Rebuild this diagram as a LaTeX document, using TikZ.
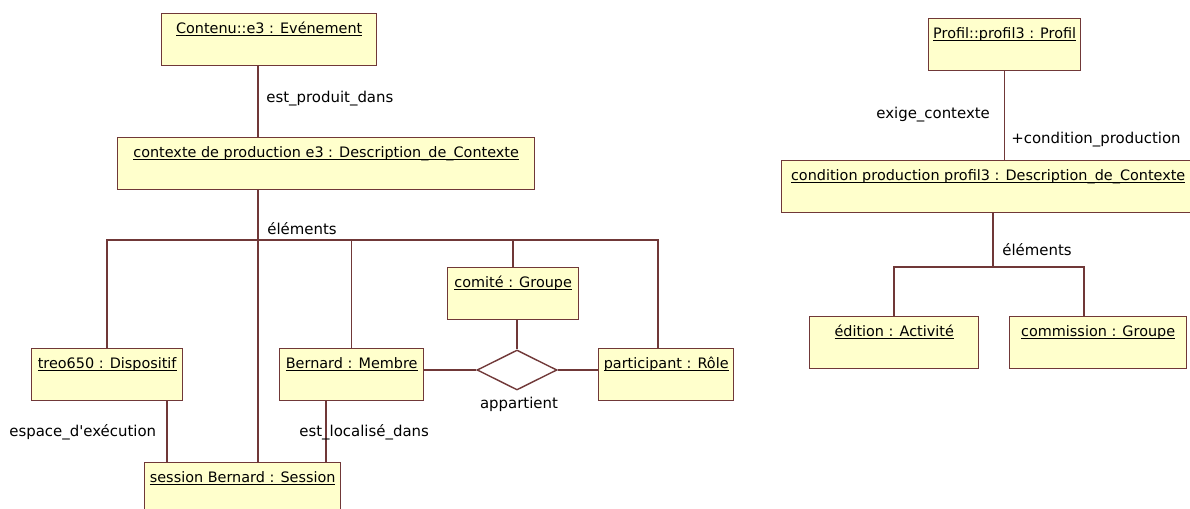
\documentclass[tikz,border=0pt]{standalone}
\usepackage{fontspec}
\newfontfamily\umlfont{DejaVu Sans}
\usetikzlibrary{shapes.geometric, positioning}
\usepackage{xcolor}
\definecolor{objFill}{RGB}{255,255,204}
\definecolor{objLine}{RGB}{112,56,56}
\newcommand{\objname}[1]{\underline{\smash{#1}}}

\begin{document}
\begin{tikzpicture}[
    x=0.02cm, y=-0.02cm,
    objbox/.style={rectangle, draw=objLine, line width=0.8pt, fill=objFill, anchor=north west, inner xsep=2.5pt, inner ysep=4pt, text height=7pt, text depth=14.6pt, font=\umlfont\fontsize{8.2}{10}\selectfont},
    assoc/.style={font=\umlfont\fontsize{8.5}{10}\selectfont, inner sep=0pt, anchor=west},
    link/.style={draw=objLine, line width=0.8pt}
]
\useasboundingbox (0,0) rectangle (1190,509);

% left diagram
\node[objbox, minimum width=4.30cm] (evt) at (161,13) {\objname{Contenu::e3 : Evénement}};
\node[objbox, minimum width=8.34cm] (ctx) at (117,137) {\objname{contexte de production e3 : Description\_de\_Contexte}};
\node[objbox, minimum width=3.02cm] (treo) at (31,348) {\objname{treo650 : Dispositif}};
\node[objbox, minimum width=2.88cm] (memb) at (279,348) {\objname{Bernard : Membre}};
\node[objbox, minimum width=2.62cm] (comite) at (447,267) {\objname{comité : Groupe}};
\node[objbox, minimum width=2.70cm] (part) at (598,348) {\objname{participant : Rôle}};
\node[objbox, minimum width=3.92cm] (sess) at (144,462) {\objname{session Bernard : Session}};
\node[diamond, draw=objLine, line width=0.8pt, fill=white, aspect=2, minimum width=1.6cm, minimum height=0.8cm, inner sep=0pt] (appart) at (517,370) {};

\coordinate (spine) at (258,240);
\coordinate (busE) at (658,240);
\coordinate (execX) at (167,0);
\coordinate (locX) at (326,0);

\draw[link] (evt.south -| spine) -- (ctx.north -| spine);
\draw[link] (ctx.south -| spine) -- (sess.north -| spine);
\draw[link] (treo.north) |- (busE) -- (busE |- part.north);
\draw[link] (memb.north) -- (memb.north |- busE);
\draw[link] (comite.north) -- (comite.north |- busE);
\draw[link] (treo.south -| execX) -- (sess.north -| execX);
\draw[link] (memb.south -| locX) -- (sess.north -| locX);
\draw[link] (comite.south -| appart) -- (appart.north);
\draw[link] (memb.east |- appart) -- (appart.west);
\draw[link] (appart.east) -- (appart -| part.west);

\node[assoc] (lblProd) at (266,99) {est\_produit\_dans};
\node[assoc] (lblElemA) at (267,229) {éléments};
\node[assoc] (lblExec) at (9,432) {espace\_d\textquotesingle exécution};
\node[assoc] (lblLoc) at (299,432) {est\_localisé\_dans};
\node[assoc, anchor=center] (lblApp) at (519,404) {appartient};

% right diagram
\node[objbox, minimum width=3.04cm] (prof) at (928,18) {\objname{Profil::profil3 : Profil}};
\node[objbox, minimum width=8.26cm] (cond) at (781,160) {\objname{condition production profil3 : Description\_de\_Contexte}};
\node[objbox, minimum width=3.38cm] (edit) at (809,316) {\objname{édition : Activité}};
\node[objbox, minimum width=3.54cm] (comm) at (1009,316) {\objname{commission : Groupe}};

\coordinate (bus2) at (993,267);
\coordinate (bus2E) at (1084,267);

\draw[link] (prof.south) -- (prof.south |- cond.north);
\draw[link] (cond.south -| bus2) -- (bus2);
\draw[link] (edit.north) |- (bus2E) -- (bus2E |- comm.north);

\node[assoc] (lblExige) at (876,115) {exige\_contexte};
\node[assoc] (lblCond) at (1011,140) {+condition\_production};
\node[assoc] (lblElemB) at (1002,250) {éléments};
\end{tikzpicture}
\end{document}
